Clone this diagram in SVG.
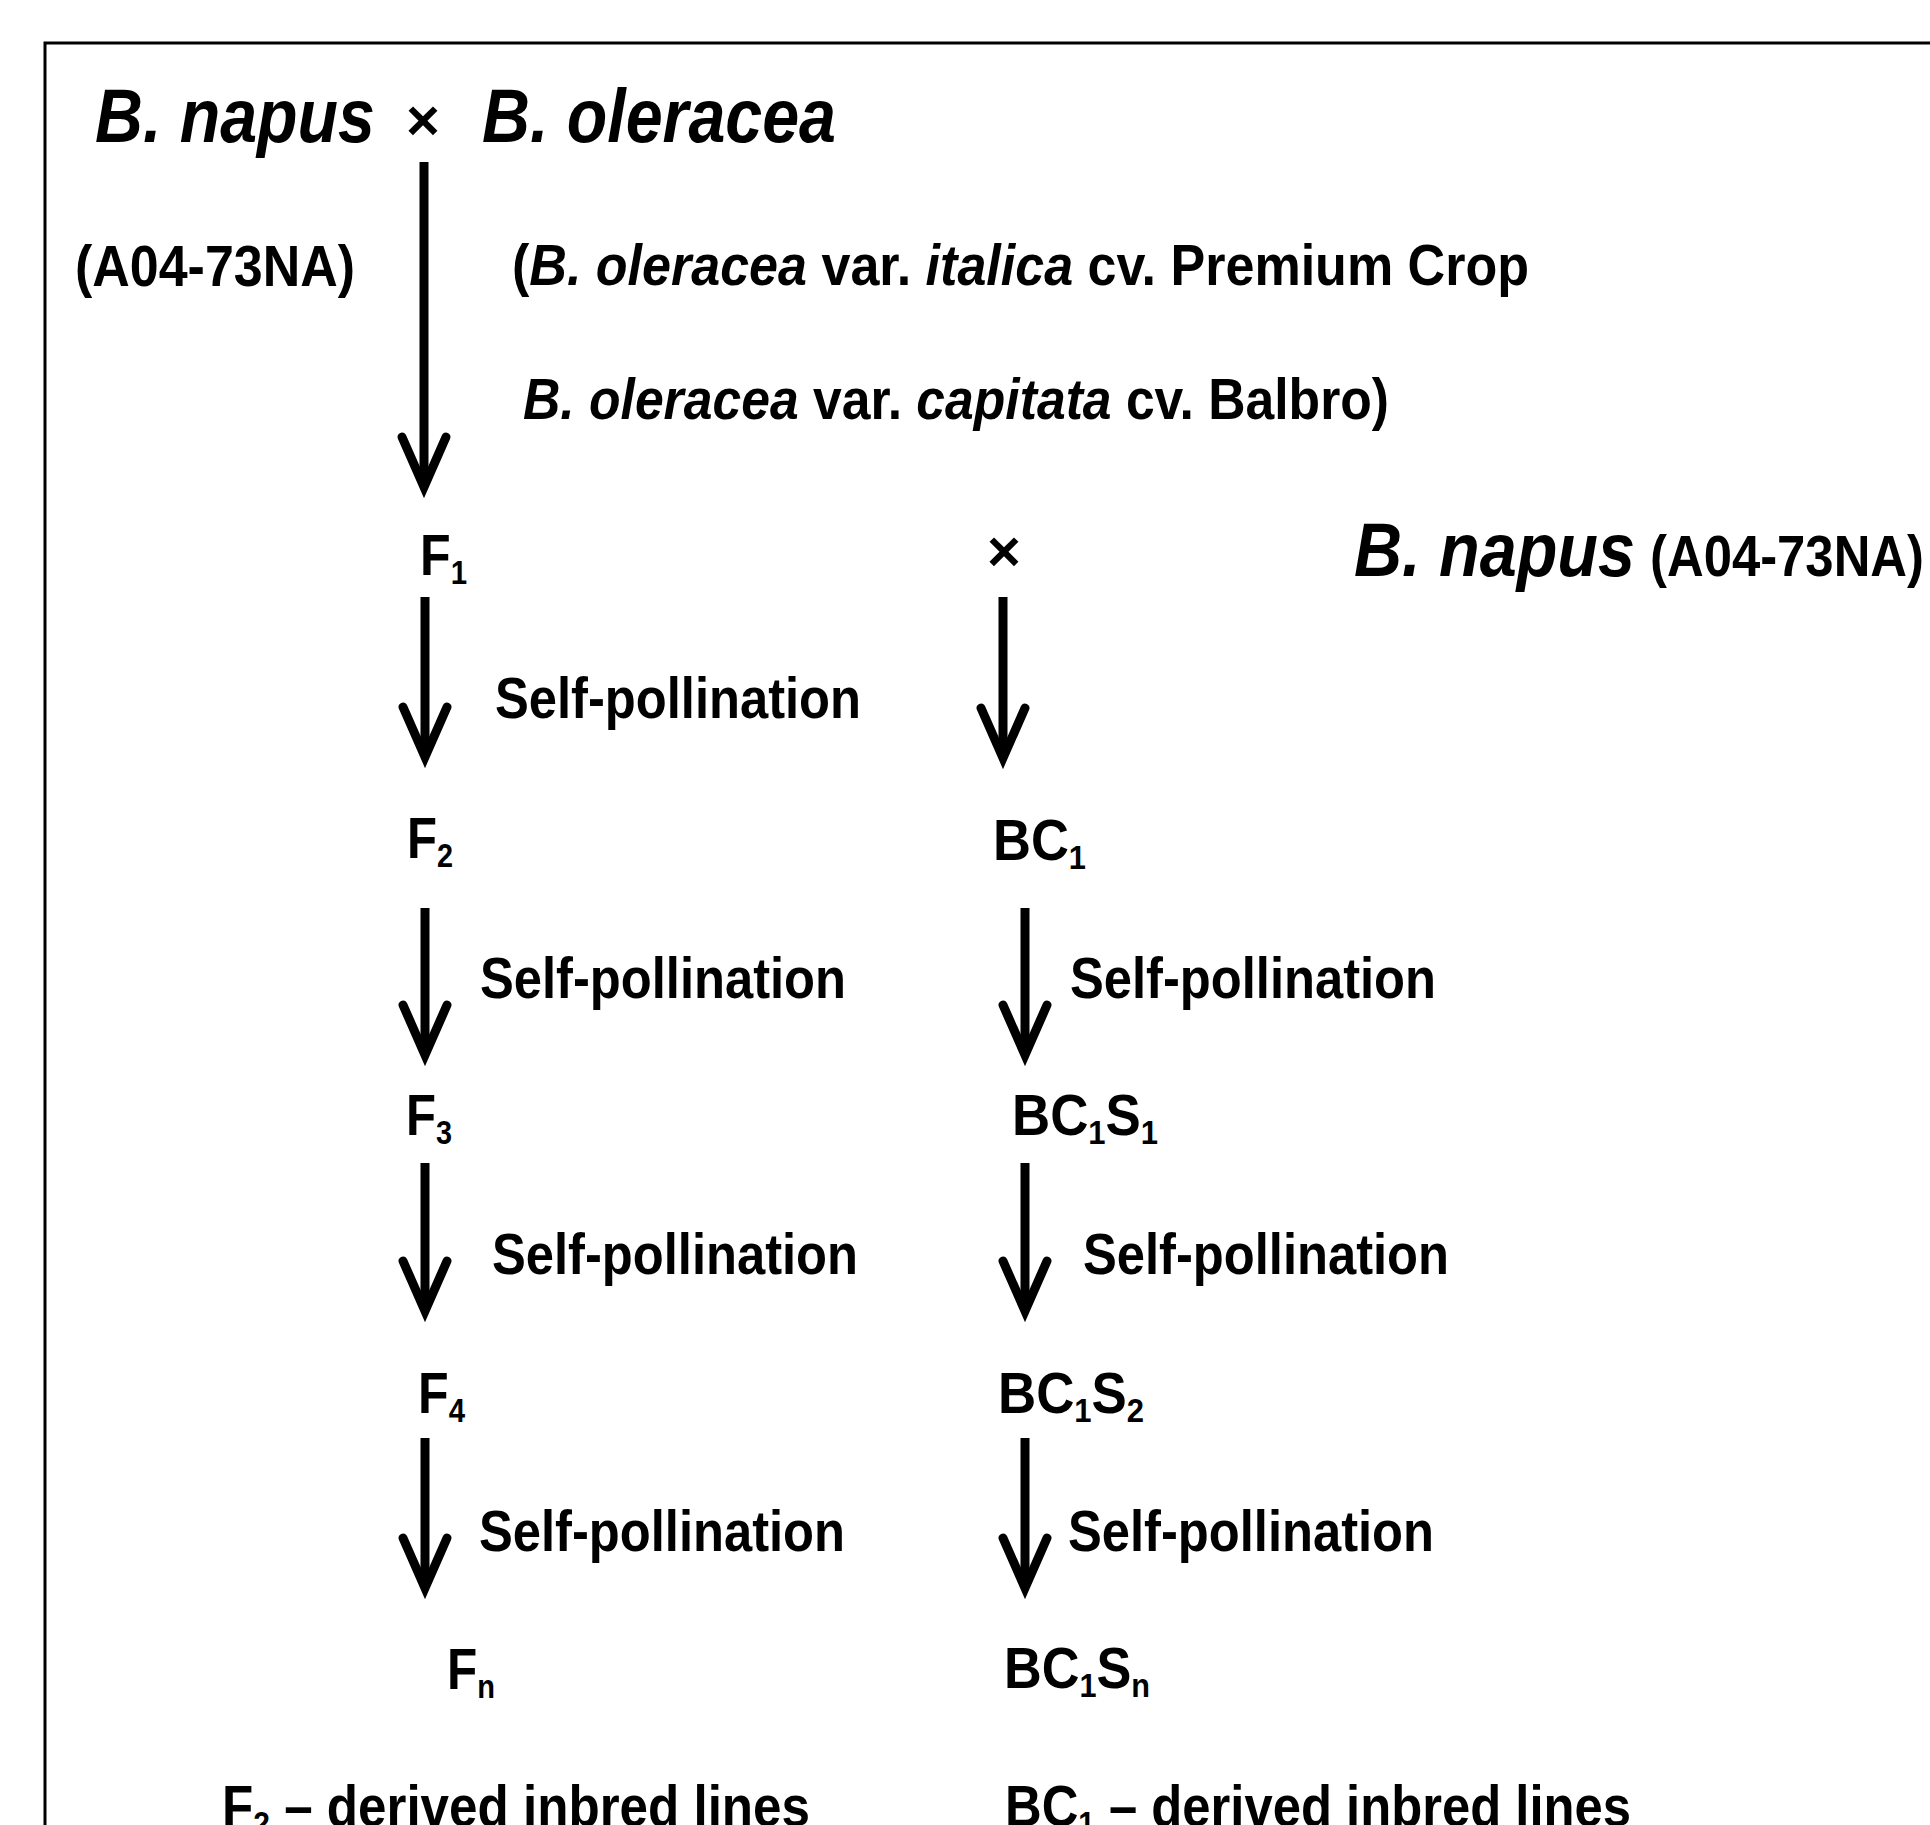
<svg xmlns="http://www.w3.org/2000/svg" width="1930" height="1825" viewBox="0 0 1930 1825">
<style>
  text { font-family: "Liberation Sans", Arial, sans-serif; font-weight: bold; fill: #000; }
  .it { font-style: italic; }
  .lab { font-size: 58px; }
  .big { font-size: 76px; }
  .sub { font-size: 34px; }
  .conn line { stroke: #000; stroke-width: 9; marker-end: url(#chev); }
</style>
<defs>
  <marker id="chev" markerUnits="userSpaceOnUse" viewBox="-70 -35 90 70" markerWidth="90" markerHeight="70" refX="0" refY="0" orient="auto" overflow="visible">
    <path d="M -50 -22 L 0 0 L -50 22" fill="none" stroke="#000" stroke-width="9" stroke-linejoin="miter" stroke-linecap="round"/>
  </marker>
</defs>
<rect x="0" y="0" width="1930" height="1825" fill="#fff"/>
<rect x="45" y="43" width="1900" height="1800" fill="none" stroke="#000" stroke-width="3"/>

<g id="title">
  <text class="big" x="95" y="142" textLength="280" lengthAdjust="spacingAndGlyphs"><tspan class="it">B. napus</tspan></text>
  <text class="lab" x="423" y="140" text-anchor="middle" font-size="62">×</text>
  <text class="big" x="482" y="142" textLength="354" lengthAdjust="spacingAndGlyphs"><tspan class="it">B. oleracea</tspan></text>
</g>
<g id="parent-napus-code">
  <text class="lab" x="75" y="286" textLength="280" lengthAdjust="spacingAndGlyphs">(A04-73NA)</text>
</g>
<g id="parent-oleracea">
  <text class="lab" x="512" y="285" textLength="1017" lengthAdjust="spacingAndGlyphs">(<tspan class="it">B. oleracea</tspan> var. <tspan class="it">italica</tspan> cv. Premium Crop</text>
  <text class="lab" x="523" y="419" textLength="866" lengthAdjust="spacingAndGlyphs"><tspan class="it">B. oleracea</tspan> var. <tspan class="it">capitata</tspan> cv. Balbro)</text>
</g>

<g id="F1"><text class="lab" x="420" y="575" textLength="47" lengthAdjust="spacingAndGlyphs">F<tspan class="sub" dy="9">1</tspan></text></g>
<g id="cross"><text class="lab" x="1004" y="571" text-anchor="middle" font-size="60">×</text></g>
<g id="napus-recurrent">
  <text class="big" x="1354" y="576" textLength="281" lengthAdjust="spacingAndGlyphs"><tspan class="it">B. napus</tspan></text>
  <text class="lab" x="1650" y="576" textLength="274" lengthAdjust="spacingAndGlyphs">(A04-73NA)</text>
</g>

<g id="F2"><text class="lab" x="407" y="858" textLength="46" lengthAdjust="spacingAndGlyphs">F<tspan class="sub" dy="9">2</tspan></text></g>
<g id="F3"><text class="lab" x="406" y="1135" textLength="46" lengthAdjust="spacingAndGlyphs">F<tspan class="sub" dy="9">3</tspan></text></g>
<g id="F4"><text class="lab" x="418" y="1413" textLength="47" lengthAdjust="spacingAndGlyphs">F<tspan class="sub" dy="9">4</tspan></text></g>
<g id="Fn"><text class="lab" x="447" y="1689" textLength="48" lengthAdjust="spacingAndGlyphs">F<tspan class="sub" dy="9">n</tspan></text></g>

<g id="BC1"><text class="lab" x="993" y="860" textLength="93" lengthAdjust="spacingAndGlyphs">BC<tspan class="sub" dy="9">1</tspan></text></g>
<g id="BC1S1"><text class="lab" x="1012" y="1135" textLength="146" lengthAdjust="spacingAndGlyphs">BC<tspan class="sub" dy="9">1</tspan><tspan dy="-9">S</tspan><tspan class="sub" dy="9">1</tspan></text></g>
<g id="BC1S2"><text class="lab" x="998" y="1413" textLength="146" lengthAdjust="spacingAndGlyphs">BC<tspan class="sub" dy="9">1</tspan><tspan dy="-9">S</tspan><tspan class="sub" dy="9">2</tspan></text></g>
<g id="BC1Sn"><text class="lab" x="1004" y="1688" textLength="146" lengthAdjust="spacingAndGlyphs">BC<tspan class="sub" dy="9">1</tspan><tspan dy="-9">S</tspan><tspan class="sub" dy="9">n</tspan></text></g>

<g id="F2-lines"><text class="lab" x="222" y="1826" textLength="588" lengthAdjust="spacingAndGlyphs">F<tspan class="sub" dy="9">2</tspan><tspan dy="-9"> – derived inbred lines</tspan></text></g>
<g id="BC1-lines"><text class="lab" x="1005" y="1826" textLength="626" lengthAdjust="spacingAndGlyphs">BC<tspan class="sub" dy="9">1</tspan><tspan dy="-9"> – derived inbred lines</tspan></text></g>

<g id="connectors" class="conn">
  <line x1="424" y1="162" x2="424" y2="487"/>
  <line x1="425" y1="597" x2="425" y2="757"/>
  <line x1="1003" y1="597" x2="1003" y2="758"/>
  <line x1="425" y1="908" x2="425" y2="1055"/>
  <line x1="1025" y1="908" x2="1025" y2="1055"/>
  <line x1="425" y1="1163" x2="425" y2="1311"/>
  <line x1="1025" y1="1163" x2="1025" y2="1311"/>
  <line x1="425" y1="1438" x2="425" y2="1588"/>
  <line x1="1025" y1="1438" x2="1025" y2="1588"/>
</g>
<g id="edge-labels">
  <text class="lab" x="495" y="718" textLength="366" lengthAdjust="spacingAndGlyphs">Self-pollination</text>
  <text class="lab" x="480" y="998" textLength="366" lengthAdjust="spacingAndGlyphs">Self-pollination</text>
  <text class="lab" x="1070" y="998" textLength="366" lengthAdjust="spacingAndGlyphs">Self-pollination</text>
  <text class="lab" x="492" y="1274" textLength="366" lengthAdjust="spacingAndGlyphs">Self-pollination</text>
  <text class="lab" x="1083" y="1274" textLength="366" lengthAdjust="spacingAndGlyphs">Self-pollination</text>
  <text class="lab" x="479" y="1551" textLength="366" lengthAdjust="spacingAndGlyphs">Self-pollination</text>
  <text class="lab" x="1068" y="1551" textLength="366" lengthAdjust="spacingAndGlyphs">Self-pollination</text>
</g>
</svg>
